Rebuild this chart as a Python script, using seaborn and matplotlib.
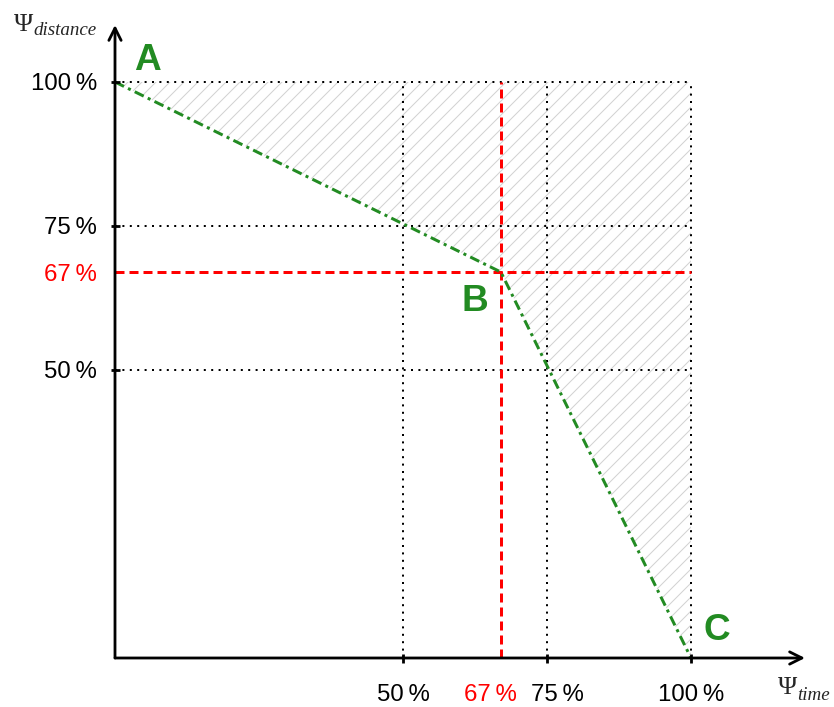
import numpy as np
import pandas as pd
import matplotlib
matplotlib.use("Agg")
import matplotlib.pyplot as plt
import seaborn as sns

# ---------------- data ----------------
curve_x = [0, 67, 100]          # Psi_time (%)
curve_y = [100, 67, 0]          # Psi_distance (%)
point_labels = ["A", "B", "C"]
grid_x = [50, 75, 100]
grid_y = [50, 75, 100]
mark_x = 67
mark_y = 67
x_tick_labels = ["50\u2009%", "67\u2009%", "75\u2009%", "100\u2009%"]
x_tick_values = [50, 67, 75, 100]
y_tick_labels = ["50\u2009%", "67\u2009%", "75\u2009%", "100\u2009%"]
y_tick_values = [50, 67, 75, 100]

# ---------------- style ----------------
sns.set_style("white")
DPI = 126
W, H = 834, 707
PX_PER_UNIT = 5.76
ORIGIN_PX = (115, 658)

def pt(px):
    return px * 72.0 / DPI

plt.rcParams["font.family"] = ["Liberation Sans", "DejaVu Sans"]
plt.rcParams["lines.scale_dashes"] = False
plt.rcParams["hatch.linewidth"] = pt(1.0)

GREEN = "#228B22"
RED = "#FF0000"
HATCH_GREY = "#d2d2d2"

fig = plt.figure(figsize=(W / DPI, H / DPI), dpi=DPI)
ax = fig.add_axes([0, 0, 1, 1])
ax.set_xlim(-ORIGIN_PX[0] / PX_PER_UNIT, (W - ORIGIN_PX[0]) / PX_PER_UNIT)
ax.set_ylim((ORIGIN_PX[1] - H) / PX_PER_UNIT, ORIGIN_PX[1] / PX_PER_UNIT)
ax.axis("off")

top = max(grid_y)
right = max(grid_x)

# hatched region between curve and the 100% box
ax.fill_between(curve_x, curve_y, top, facecolor="none", edgecolor=HATCH_GREY,
                linewidth=0, hatch="///", zorder=1)

# dotted grid lines
dot_style = (0, (pt(2.0), pt(5.4)))
for gy in grid_y:
    ax.plot([0, right], [gy, gy], color="black", linestyle=dot_style,
            linewidth=pt(2.0), zorder=2)
for gx in grid_x:
    ax.plot([gx, gx], [0, top], color="black", linestyle=dot_style,
            linewidth=pt(2.0), zorder=2)

# red dashed marker lines
dash_style = (0, (pt(9), pt(5)))
ax.plot([0, right], [mark_y, mark_y], color=RED, linestyle=dash_style,
        linewidth=pt(3), zorder=3)
ax.plot([mark_x, mark_x], [0, top], color=RED, linestyle=dash_style,
        linewidth=pt(3), zorder=3)

# green dash-dot curve
df = pd.DataFrame({"t": curve_x, "d": curve_y})
sns.lineplot(data=df, x="t", y="d", ax=ax, color=GREEN, linewidth=pt(3),
             sort=False, zorder=4)
ax.lines[-1].set_linestyle((0, (pt(10), pt(4.5), pt(3), pt(4.5))))

# axes with arrows
x_end = (805 - ORIGIN_PX[0]) / PX_PER_UNIT
y_end = (ORIGIN_PX[1] - 25) / PX_PER_UNIT
arrow_kw = dict(arrowstyle="->,head_length=0.7,head_width=0.35",
                color="black", linewidth=pt(2.8), shrinkA=0, shrinkB=0)
ax.annotate("", xy=(x_end, 0), xytext=(0, 0), arrowprops=arrow_kw, zorder=5)
ax.annotate("", xy=(0, y_end), xytext=(0, 0), arrowprops=arrow_kw, zorder=5)

# tick marks
tick_half = 4.5 / PX_PER_UNIT
for gx in grid_x:
    ax.plot([gx, gx], [-tick_half, tick_half], color="black",
            linewidth=pt(2.8), solid_capstyle="butt", zorder=5)
for gy in grid_y:
    ax.plot([-tick_half, tick_half], [gy, gy], color="black",
            linewidth=pt(2.8), solid_capstyle="butt", zorder=5)

# tick labels (a few are nudged sideways, as in the original)
x_label_shift = {67: -10, 75: 10}
for v, lab in zip(x_tick_values, x_tick_labels):
    ax.text(v + x_label_shift.get(v, 0) / PX_PER_UNIT, -43 / PX_PER_UNIT, lab,
            ha="center", va="baseline", fontsize=pt(24),
            color=RED if v == mark_x else "black")
for v, lab in zip(y_tick_values, y_tick_labels):
    ax.text(-18 / PX_PER_UNIT, v - 8.5 / PX_PER_UNIT, lab, ha="right",
            va="baseline", fontsize=pt(24),
            color=RED if v == mark_y else "black")

# point labels A, B, C
offsets = [(32, 21), (-26, -29), (26, 27)]  # px offsets from the point
for (px_, py_), lab, (dx, dy) in zip(zip(curve_x, curve_y), point_labels, offsets):
    ax.text(px_ + dx / PX_PER_UNIT, py_ + dy / PX_PER_UNIT, lab,
            ha="center", va="center", fontsize=pt(37), fontweight="bold",
            color=GREEN)

# axis names: Psi with italic subscript
serif = ["Liberation Serif", "DejaVu Serif"]
ax.text(-82 / PX_PER_UNIT, (ORIGIN_PX[1] - 31) / PX_PER_UNIT, "\u03a8",
        ha="right", va="baseline", fontsize=pt(26), family=serif)
ax.text(-82 / PX_PER_UNIT, (ORIGIN_PX[1] - 35) / PX_PER_UNIT, "distance",
        ha="left", va="baseline", fontsize=pt(19), family=serif, style="italic")
ax.text((797 - ORIGIN_PX[0]) / PX_PER_UNIT, (ORIGIN_PX[1] - 694) / PX_PER_UNIT,
        "\u03a8", ha="right", va="baseline", fontsize=pt(26), family=serif)
ax.text((797 - ORIGIN_PX[0]) / PX_PER_UNIT, (ORIGIN_PX[1] - 700) / PX_PER_UNIT,
        "time", ha="left", va="baseline", fontsize=pt(19), family=serif,
        style="italic")

fig.savefig("out.png", dpi=DPI, facecolor="white")
